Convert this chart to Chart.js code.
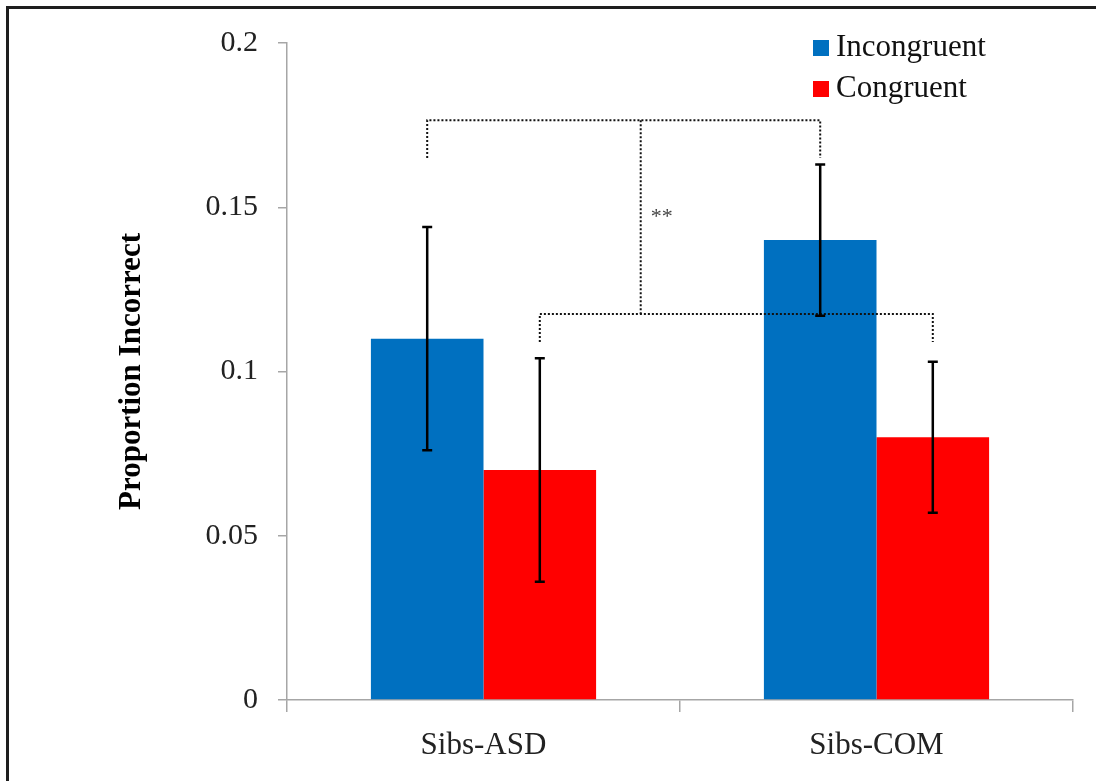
<!DOCTYPE html>
<html>
<head>
<meta charset="utf-8">
<script src="https://cdn.jsdelivr.net/npm/chart.js@4/dist/chart.umd.min.js"></script>
<style>
  body { margin: 0; background: #fff; overflow: hidden; }
  #wrap { position: relative; width: 1096px; height: 781px; }
  #frame { position: absolute; left: 6px; top: 6px; width: 1200px; height: 900px;
           border-left: 3px solid #1e1e1e; border-top: 3px solid #1e1e1e; pointer-events: none; }
</style>
</head>
<body>
<div id="wrap">
  <canvas id="grafico" width="1096" height="781"></canvas>
  <div id="frame"></div>
</div>
<script>
// dados
var categories = ['Sibs-ASD', 'Sibs-COM']
var seriesNames = ['Incongruent', 'Congruent']
var incongruent = [0.11, 0.14]
var congruent = [0.07, 0.08]
var incongruentErr = [[0.076, 0.144], [0.117, 0.163]] // [baixo, alto]
var congruentErr = [[0.036, 0.104], [0.057, 0.103]]
var yTicks = [0, 0.05, 0.1, 0.15, 0.2]

// colchetes de significância (em unidades do eixo y)
var upperBracket = [0.1765, 0.165] // nível, fim das pernas
var lowerBracket = [0.1175, 0.109]
var linkPos = 0.4 // posição (categoria) da linha que liga os dois colchetes
var starLabel = '**'
var starLevel = 0.147

var serif = "'Liberation Serif', 'Times New Roman', serif"
var colors = ['#0070C0', '#FF0000']
var errors = [incongruentErr, congruentErr]

var extras = {
  id: 'extras',
  afterDatasetsDraw: function (chart) {
    var ctx = chart.ctx
    var x = chart.scales.x
    var y = chart.scales.y

    // colchetes pontilhados
    var m0 = chart.getDatasetMeta(0).data
    var m1 = chart.getDatasetMeta(1).data
    ctx.save()
    ctx.strokeStyle = '#111'
    ctx.lineWidth = 2
    ctx.setLineDash([2, 2])
    function bracket(xa, xb, lv) {
      var top = y.getPixelForValue(lv[0])
      var leg = y.getPixelForValue(lv[1])
      ctx.beginPath()
      ctx.moveTo(xa, leg)
      ctx.lineTo(xa, top)
      ctx.lineTo(xb, top)
      ctx.lineTo(xb, leg)
      ctx.stroke()
    }
    bracket(m0[0].x, m0[1].x, upperBracket)
    bracket(m1[0].x, m1[1].x, lowerBracket)
    var lx = x.getPixelForValue(linkPos)
    ctx.beginPath()
    ctx.moveTo(lx, y.getPixelForValue(upperBracket[0]))
    ctx.lineTo(lx, y.getPixelForValue(lowerBracket[0]))
    ctx.stroke()
    ctx.setLineDash([])

    ctx.fillStyle = '#444'
    ctx.font = '22px ' + serif
    ctx.textAlign = 'left'
    ctx.textBaseline = 'middle'
    ctx.fillText(starLabel, lx + 10, y.getPixelForValue(starLevel))

    // barras de erro
    ctx.strokeStyle = '#000'
    ctx.lineWidth = 2.5
    for (var d = 0; d < 2; d++) {
      var meta = chart.getDatasetMeta(d).data
      for (var i = 0; i < meta.length; i++) {
        var bx = meta[i].x
        var lo = y.getPixelForValue(errors[d][i][0])
        var hi = y.getPixelForValue(errors[d][i][1])
        ctx.beginPath()
        ctx.moveTo(bx, lo); ctx.lineTo(bx, hi)
        ctx.moveTo(bx - 5, lo); ctx.lineTo(bx + 5, lo)
        ctx.moveTo(bx - 5, hi); ctx.lineTo(bx + 5, hi)
        ctx.stroke()
      }
    }

    // legenda
    ctx.font = '31px ' + serif
    ctx.textBaseline = 'middle'
    for (var k = 0; k < seriesNames.length; k++) {
      var ly = 48 + k * 41
      ctx.fillStyle = colors[k]
      ctx.fillRect(813, ly - 8, 16, 16)
      ctx.fillStyle = '#111'
      ctx.fillText(seriesNames[k], 836, ly)
    }
    ctx.restore()
  }
}

var ctx = document.getElementById('grafico').getContext('2d')

var grafico = new Chart(ctx, {
  type: 'bar',
  data: {
    labels: categories,
    datasets: [
      { label: seriesNames[0], data: incongruent, backgroundColor: colors[0] },
      { label: seriesNames[1], data: congruent, backgroundColor: colors[1] },
    ],
  },
  options: {
    responsive: false,
    animation: false,
    layout: { padding: { top: 43, right: 23, left: 0, bottom: 0 } },
    plugins: {
      legend: { display: false },
      tooltip: { enabled: false },
    },
    datasets: {
      bar: { barPercentage: 1, categoryPercentage: 0.573 },
    },
    scales: {
      x: {
        grid: { display: true, drawOnChartArea: false, tickLength: 12, color: '#a6a6a6', lineWidth: 1.5 },
        border: { color: '#a6a6a6', width: 1.5 },
        ticks: { color: '#222', padding: 15, font: { family: serif, size: 31 } },
        afterFit: function (s) { s.height = 81 },
      },
      y: {
        min: 0,
        max: 0.2,
        afterBuildTicks: function (s) { s.ticks = yTicks.map(function (v) { return { value: v } }) },
        grid: { display: true, drawOnChartArea: false, tickLength: 9, color: '#a6a6a6', lineWidth: 1.5 },
        border: { color: '#a6a6a6', width: 1.5 },
        ticks: {
          color: '#222',
          padding: 20,
          font: { family: serif, size: 30 },
          callback: function (v) { return String(+Number(v).toFixed(2)) },
        },
        title: {
          display: true,
          text: 'Proportion Incorrect',
          color: '#000',
          font: { family: serif, size: 31, weight: 'bold' },
          padding: { top: 113, bottom: 0 },
        },
        afterFit: function (s) { s.width = 287 },
      },
    },
  },
  plugins: [extras],
})
</script>
</body>
</html>
